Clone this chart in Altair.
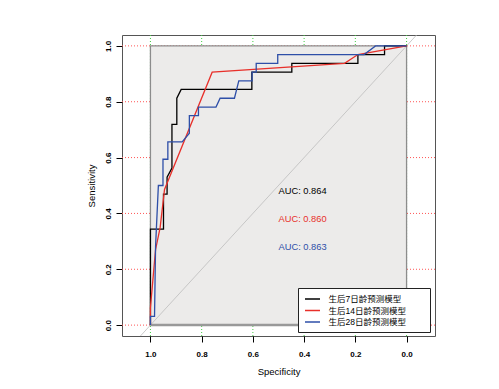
import altair as alt
import pandas as pd

# ---- data ----
models = ["生后7日龄预测模型", "生后14日龄预测模型", "生后28日龄预测模型"]
colors = ["#000000", "#E8302A", "#2E4FA8"]

spec7 = [1.0, 1.0, 0.949, 0.949, 0.935, 0.935, 0.916, 0.916, 0.897, 0.897, 0.88,
         0.604, 0.604, 0.448, 0.448, 0.19, 0.19, 0.086, 0.086, 0.0]
sens7 = [0.0, 0.344, 0.344, 0.469, 0.469, 0.53, 0.5625, 0.719, 0.719, 0.8125, 0.844,
         0.844, 0.906, 0.906, 0.9375, 0.9375, 0.969, 0.969, 1.0, 1.0]

spec14 = [1.0, 1.0, 0.98, 0.962, 0.945, 0.759, 0.242, 0.19, 0.0]
sens14 = [0.0, 0.0625, 0.27, 0.35, 0.486, 0.906, 0.9375, 0.969, 1.0]

spec28 = [1.0, 1.0, 0.984, 0.98, 0.969, 0.951, 0.951, 0.932, 0.932, 0.876, 0.848, 0.848,
          0.8125, 0.8125, 0.744, 0.728, 0.672, 0.655, 0.603, 0.603, 0.587, 0.587,
          0.503, 0.503, 0.166, 0.121, 0.0]
sens28 = [0.0, 0.03125, 0.03125, 0.281, 0.5, 0.5, 0.594, 0.594, 0.656, 0.656, 0.6875, 0.75,
          0.75, 0.781, 0.781, 0.8125, 0.8125, 0.875, 0.875, 0.906, 0.906, 0.9375,
          0.9375, 0.969, 0.969, 1.0, 1.0]

auc_text = ["AUC: 0.864", "AUC: 0.860", "AUC: 0.863"]
auc_x = [0.5, 0.5, 0.5]
auc_y = [0.48, 0.38, 0.28]

ticks = [0.0, 0.2, 0.4, 0.6, 0.8, 1.0]
diag_spec = [1.3, -0.3]
diag_sens = [-0.3, 1.3]
box_lo = [0.0]
box_hi = [1.0]

x_domain = [-0.111, 1.111]
y_domain = [-0.039, 1.039]

# ---- tables ----
rows = []
for m, sp, se in zip(models, [spec7, spec14, spec28], [sens7, sens14, sens28]):
    for i, (a, b) in enumerate(zip(sp, se)):
        rows.append({"model": m, "spec": a, "sens": b, "ord": i})
curves = pd.DataFrame(rows)
auc_df = pd.DataFrame({"x": auc_x, "y": auc_y, "t": auc_text, "c": colors})
tick_df = pd.DataFrame({"v": ticks})
diag_df = pd.DataFrame({"spec": diag_spec, "sens": diag_sens})
box_df = pd.DataFrame({"x1": box_hi, "x2": box_lo, "y1": box_lo, "y2": box_hi})

xs = alt.Scale(domain=x_domain, reverse=True, nice=False, zero=False)
ys = alt.Scale(domain=y_domain, nice=False, zero=False)

FONT = "Liberation Sans"

xaxis = alt.Axis(values=ticks, format=".1f", title="Specificity", grid=False, domain=False,
                 tickSize=6, tickColor="#000", labelFontSize=8, labelFontWeight="bold",
                 labelColor="#000", labelPadding=8, titleFontSize=9.5, titleFontWeight="normal",
                 titlePadding=8, labelFont=FONT, titleFont=FONT)
yaxis = alt.Axis(values=ticks, format=".1f", title="Sensitivity", grid=False, domain=False,
                 tickSize=6, tickColor="#000", labelFontSize=8, labelFontWeight="bold",
                 labelColor="#000", labelAngle=270, labelAlign="center",
                 labelBaseline="alphabetic", labelPadding=6, titleFontSize=9.5,
                 titleFontWeight="normal", titlePadding=8, labelFont=FONT, titleFont=FONT)

vgrid = alt.Chart(tick_df).mark_rule(color="#44CC44", strokeDash=[1, 2], strokeWidth=1).encode(
    x=alt.X("v:Q", scale=xs, axis=xaxis))
hgrid = alt.Chart(tick_df).mark_rule(color="#FF5555", strokeDash=[1, 2], strokeWidth=1).encode(
    y=alt.Y("v:Q", scale=ys, axis=yaxis))

box = alt.Chart(box_df).mark_rect(fill="#ECEBEA", stroke="#8C8C8C", strokeWidth=1.3).encode(
    x=alt.X("x1:Q", scale=xs), x2="x2:Q", y=alt.Y("y1:Q", scale=ys), y2="y2:Q")
base0 = alt.Chart(box_df).mark_rule(color="#999999", strokeWidth=2.5).encode(
    x=alt.X("x1:Q", scale=xs), x2="x2:Q", y=alt.Y("y1:Q", scale=ys))

diag = alt.Chart(diag_df).mark_line(color="#BDBDBD", strokeWidth=0.8, clip=True).encode(
    x=alt.X("spec:Q", scale=xs), y=alt.Y("sens:Q", scale=ys))

# invisible title on the right widens the legend box to the plot edge
legend = alt.Legend(orient="none", legendX=176, legendY=253, title="生",
                    titleOrient="right", titleColor="transparent", titleFontSize=13,
                    titlePadding=6,
                    fillColor="white", strokeColor="#222222", padding=5,
                    symbolType="M-1.5,0L1.5,0", symbolSize=100, symbolStrokeWidth=1.5,
                    symbolOffset=3.5, labelOffset=10, rowPadding=0.5,
                    labelFontSize=8.5, labelFont="Liberation Sans, Noto Sans CJK SC",
                    labelColor="#000", cornerRadius=0)

lines = alt.Chart(curves).mark_line(strokeWidth=1.3).encode(
    x=alt.X("spec:Q", scale=xs),
    y=alt.Y("sens:Q", scale=ys),
    color=alt.Color("model:N", scale=alt.Scale(domain=models, range=colors), legend=legend),
    order="ord:Q")

texts = alt.Chart(auc_df).mark_text(align="left", baseline="middle", fontSize=9.3, font=FONT).encode(
    x=alt.X("x:Q", scale=xs), y=alt.Y("y:Q", scale=ys), text="t:N",
    color=alt.Color("c:N", scale=None))

chart = alt.layer(vgrid, hgrid, box, base0, diag, lines, texts).properties(
    width=313, height=301,
    autosize=alt.AutoSizeParams(type="none"),
    padding={"left": 114, "top": 27, "right": 50, "bottom": 45},
).configure_view(stroke="#555555", strokeWidth=1)

chart.save("out.html", embed_options={"renderer": "svg", "actions": False})
